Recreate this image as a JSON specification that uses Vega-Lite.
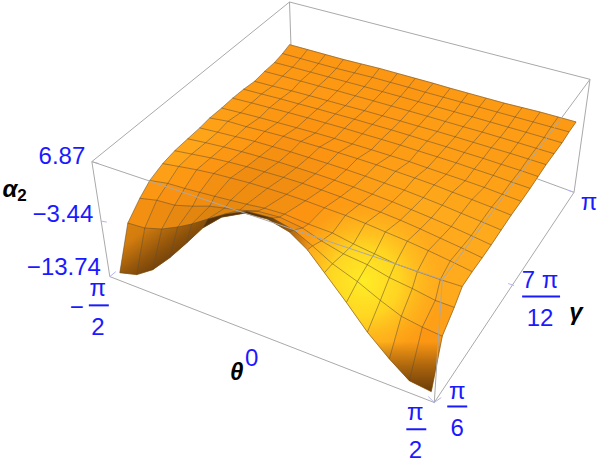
{"$schema":"https://vega.github.io/schema/vega-lite/v6.json","width":598,"height":463,"padding":0,"autosize":{"type":"fit","contains":"padding"},"background":"white","config":{"view":{"stroke":null}},
"datasets":{
"v":[
{"i":0,"j":16,"x":290,"y":43,"s":0.61},{"i":1,"j":16,"x":308,"y":48,"s":0.61},{"i":2,"j":16,"x":326,"y":53,"s":0.61},{"i":3,"j":16,"x":344,"y":58,"s":0.61},{"i":4,"j":16,"x":362,"y":62.5,"s":0.61},{"i":5,"j":16,"x":380,"y":67,"s":0.61},{"i":6,"j":16,"x":398,"y":72,"s":0.61},{"i":7,"j":16,"x":416,"y":77,"s":0.61},{"i":8,"j":16,"x":434,"y":82,"s":0.61},{"i":9,"j":16,"x":451,"y":87,"s":0.63},{"i":10,"j":16,"x":469,"y":92,"s":0.63},{"i":11,"j":16,"x":487,"y":97,"s":0.63},{"i":12,"j":16,"x":505,"y":102,"s":0.63},{"i":13,"j":16,"x":523,"y":106.5,"s":0.63},{"i":14,"j":16,"x":541,"y":111,"s":0.63},{"i":15,"j":16,"x":559,"y":116,"s":0.63},{"i":16,"j":16,"x":577,"y":121,"s":0.63},
{"i":0,"j":15,"x":283,"y":52,"s":0.62},{"i":1,"j":15,"x":301,"y":57,"s":0.62},{"i":2,"j":15,"x":319,"y":62,"s":0.62},{"i":3,"j":15,"x":337,"y":67,"s":0.62},{"i":4,"j":15,"x":355,"y":71.5,"s":0.62},{"i":5,"j":15,"x":373,"y":76,"s":0.62},{"i":6,"j":15,"x":391,"y":81,"s":0.62},{"i":7,"j":15,"x":409,"y":86,"s":0.62},{"i":8,"j":15,"x":426,"y":91,"s":0.62},{"i":9,"j":15,"x":444,"y":96,"s":0.64},{"i":10,"j":15,"x":462,"y":101,"s":0.64},{"i":11,"j":15,"x":480,"y":106,"s":0.64},{"i":12,"j":15,"x":498,"y":111,"s":0.64},{"i":13,"j":15,"x":516,"y":116,"s":0.64},{"i":14,"j":15,"x":534,"y":121,"s":0.64},{"i":15,"j":15,"x":552,"y":126,"s":0.64},{"i":16,"j":15,"x":570,"y":131,"s":0.64},
{"i":0,"j":14,"x":275,"y":61,"s":0.62},{"i":1,"j":14,"x":293,"y":65.8,"s":0.62},{"i":2,"j":14,"x":311,"y":70.7,"s":0.62},{"i":3,"j":14,"x":329,"y":75.6,"s":0.62},{"i":4,"j":14,"x":347,"y":80.5,"s":0.62},{"i":5,"j":14,"x":365,"y":85.4,"s":0.62},{"i":6,"j":14,"x":383,"y":90.4,"s":0.62},{"i":7,"j":14,"x":401,"y":95.4,"s":0.62},{"i":8,"j":14,"x":419,"y":100.5,"s":0.62},{"i":9,"j":14,"x":437,"y":105.6,"s":0.64},{"i":10,"j":14,"x":455,"y":110.7,"s":0.64},{"i":11,"j":14,"x":473,"y":115.8,"s":0.64},{"i":12,"j":14,"x":491,"y":121,"s":0.64},{"i":13,"j":14,"x":509,"y":126.2,"s":0.64},{"i":14,"j":14,"x":527,"y":131.4,"s":0.64},{"i":15,"j":14,"x":545,"y":136.7,"s":0.64},{"i":16,"j":14,"x":563,"y":142,"s":0.64},
{"i":0,"j":13,"x":265,"y":70,"s":0.63},{"i":1,"j":13,"x":283,"y":74.8,"s":0.63},{"i":2,"j":13,"x":301,"y":79.7,"s":0.63},{"i":3,"j":13,"x":319,"y":84.7,"s":0.63},{"i":4,"j":13,"x":338,"y":89.6,"s":0.63},{"i":5,"j":13,"x":356,"y":94.7,"s":0.63},{"i":6,"j":13,"x":374,"y":99.7,"s":0.63},{"i":7,"j":13,"x":392,"y":104.9,"s":0.63},{"i":8,"j":13,"x":410,"y":110,"s":0.63},{"i":9,"j":13,"x":428,"y":115.2,"s":0.65},{"i":10,"j":13,"x":446,"y":120.5,"s":0.65},{"i":11,"j":13,"x":464,"y":125.8,"s":0.65},{"i":12,"j":13,"x":483,"y":131.2,"s":0.65},{"i":13,"j":13,"x":501,"y":136.6,"s":0.65},{"i":14,"j":13,"x":519,"y":142,"s":0.65},{"i":15,"j":13,"x":537,"y":147.5,"s":0.65},{"i":16,"j":13,"x":555,"y":153,"s":0.65},
{"i":0,"j":12,"x":255,"y":80,"s":0.63},{"i":1,"j":12,"x":273,"y":84.8,"s":0.63},{"i":2,"j":12,"x":292,"y":89.6,"s":0.63},{"i":3,"j":12,"x":310,"y":94.5,"s":0.63},{"i":4,"j":12,"x":328,"y":99.5,"s":0.63},{"i":5,"j":12,"x":346,"y":104.5,"s":0.63},{"i":6,"j":12,"x":365,"y":109.6,"s":0.63},{"i":7,"j":12,"x":383,"y":114.8,"s":0.63},{"i":8,"j":12,"x":401,"y":120,"s":0.63},{"i":9,"j":12,"x":419,"y":125.3,"s":0.65},{"i":10,"j":12,"x":438,"y":130.6,"s":0.65},{"i":11,"j":12,"x":456,"y":136,"s":0.65},{"i":12,"j":12,"x":474,"y":141.5,"s":0.65},{"i":13,"j":12,"x":492,"y":147,"s":0.65},{"i":14,"j":12,"x":511,"y":152.6,"s":0.65},{"i":15,"j":12,"x":529,"y":158.3,"s":0.65},{"i":16,"j":12,"x":547,"y":164,"s":0.65},
{"i":0,"j":11,"x":244,"y":88,"s":0.64},{"i":1,"j":11,"x":262,"y":92.8,"s":0.64},{"i":2,"j":11,"x":281,"y":97.7,"s":0.63},{"i":3,"j":11,"x":299,"y":102.7,"s":0.62},{"i":4,"j":11,"x":318,"y":107.8,"s":0.62},{"i":5,"j":11,"x":336,"y":112.9,"s":0.62},{"i":6,"j":11,"x":355,"y":118.2,"s":0.62},{"i":7,"j":11,"x":373,"y":123.5,"s":0.62},{"i":8,"j":11,"x":392,"y":129,"s":0.63},{"i":9,"j":11,"x":410,"y":134.5,"s":0.64},{"i":10,"j":11,"x":428,"y":140.2,"s":0.65},{"i":11,"j":11,"x":447,"y":146,"s":0.66},{"i":12,"j":11,"x":465,"y":151.8,"s":0.66},{"i":13,"j":11,"x":484,"y":157.7,"s":0.66},{"i":14,"j":11,"x":502,"y":163.7,"s":0.66},{"i":15,"j":11,"x":521,"y":169.8,"s":0.66},{"i":16,"j":11,"x":539,"y":176,"s":0.66},
{"i":0,"j":10,"x":233,"y":97,"s":0.65},{"i":1,"j":10,"x":252,"y":101.8,"s":0.63},{"i":2,"j":10,"x":270,"y":106.6,"s":0.62},{"i":3,"j":10,"x":289,"y":111.6,"s":0.61},{"i":4,"j":10,"x":308,"y":116.8,"s":0.6},{"i":5,"j":10,"x":326,"y":122,"s":0.6},{"i":6,"j":10,"x":345,"y":127.4,"s":0.61},{"i":7,"j":10,"x":363,"y":132.9,"s":0.62},{"i":8,"j":10,"x":382,"y":138.5,"s":0.63},{"i":9,"j":10,"x":401,"y":144.3,"s":0.64},{"i":10,"j":10,"x":419,"y":150.2,"s":0.65},{"i":11,"j":10,"x":438,"y":156.2,"s":0.66},{"i":12,"j":10,"x":457,"y":162.3,"s":0.66},{"i":13,"j":10,"x":475,"y":168.5,"s":0.67},{"i":14,"j":10,"x":494,"y":174.9,"s":0.67},{"i":15,"j":10,"x":512,"y":181.4,"s":0.67},{"i":16,"j":10,"x":531,"y":188,"s":0.67},
{"i":0,"j":9,"x":222,"y":107,"s":0.66},{"i":1,"j":9,"x":241,"y":111.7,"s":0.65},{"i":2,"j":9,"x":260,"y":116.6,"s":0.63},{"i":3,"j":9,"x":278,"y":121.6,"s":0.61},{"i":4,"j":9,"x":297,"y":126.8,"s":0.6},{"i":5,"j":9,"x":316,"y":132.1,"s":0.6},{"i":6,"j":9,"x":335,"y":137.6,"s":0.61},{"i":7,"j":9,"x":353,"y":143.2,"s":0.62},{"i":8,"j":9,"x":372,"y":149,"s":0.63},{"i":9,"j":9,"x":391,"y":155,"s":0.65},{"i":10,"j":9,"x":410,"y":161,"s":0.66},{"i":11,"j":9,"x":428,"y":167.3,"s":0.67},{"i":12,"j":9,"x":447,"y":173.8,"s":0.68},{"i":13,"j":9,"x":466,"y":180.3,"s":0.68},{"i":14,"j":9,"x":485,"y":187,"s":0.68},{"i":15,"j":9,"x":503,"y":193.9,"s":0.68},{"i":16,"j":9,"x":522,"y":201,"s":0.68},
{"i":0,"j":8,"x":210,"y":117,"s":0.68},{"i":1,"j":8,"x":228.3,"y":120.3,"s":0.66},{"i":2,"j":8,"x":246.7,"y":125.8,"s":0.63},{"i":3,"j":8,"x":265.2,"y":130.5,"s":0.61},{"i":4,"j":8,"x":283.8,"y":135.5,"s":0.6},{"i":5,"j":8,"x":301.4,"y":140.7,"s":0.59},{"i":6,"j":8,"x":320.2,"y":146.3,"s":0.6},{"i":7,"j":8,"x":339,"y":152,"s":0.62},{"i":8,"j":8,"x":358,"y":158,"s":0.63},{"i":9,"j":8,"x":377,"y":164.2,"s":0.65},{"i":10,"j":8,"x":396.2,"y":170.8,"s":0.67},{"i":11,"j":8,"x":415.4,"y":177.5,"s":0.68},{"i":12,"j":8,"x":434.8,"y":184.5,"s":0.69},{"i":13,"j":8,"x":453.2,"y":191.8,"s":0.7},{"i":14,"j":8,"x":472.7,"y":199.3,"s":0.7},{"i":15,"j":8,"x":492.3,"y":207,"s":0.7},{"i":16,"j":8,"x":512,"y":215,"s":0.7},
{"i":0,"j":7,"x":200,"y":127,"s":0.7},{"i":1,"j":7,"x":218,"y":131.3,"s":0.67},{"i":2,"j":7,"x":236,"y":135.8,"s":0.64},{"i":3,"j":7,"x":255,"y":140.5,"s":0.61},{"i":4,"j":7,"x":273,"y":145.8,"s":0.58},{"i":5,"j":7,"x":291,"y":151.1,"s":0.58},{"i":6,"j":7,"x":309,"y":156.8,"s":0.59},{"i":7,"j":7,"x":328,"y":162.8,"s":0.6},{"i":8,"j":7,"x":347,"y":169.1,"s":0.63},{"i":9,"j":7,"x":366,"y":175.7,"s":0.65},{"i":10,"j":7,"x":385,"y":182.6,"s":0.68},{"i":11,"j":7,"x":405,"y":189.8,"s":0.7},{"i":12,"j":7,"x":424,"y":197.3,"s":0.71},{"i":13,"j":7,"x":443,"y":205,"s":0.72},{"i":14,"j":7,"x":462,"y":213.1,"s":0.72},{"i":15,"j":7,"x":482,"y":221.4,"s":0.72},{"i":16,"j":7,"x":502,"y":230,"s":0.72},
{"i":0,"j":6,"x":188,"y":138,"s":0.72},{"i":1,"j":6,"x":206,"y":141.9,"s":0.68},{"i":2,"j":6,"x":224,"y":146.2,"s":0.64},{"i":3,"j":6,"x":242,"y":150.9,"s":0.6},{"i":4,"j":6,"x":260,"y":156,"s":0.57},{"i":5,"j":6,"x":279,"y":161.4,"s":0.56},{"i":6,"j":6,"x":297,"y":167.1,"s":0.57},{"i":7,"j":6,"x":316,"y":173.2,"s":0.58},{"i":8,"j":6,"x":335,"y":179.7,"s":0.62},{"i":9,"j":6,"x":354,"y":186.6,"s":0.65},{"i":10,"j":6,"x":373,"y":193.8,"s":0.67},{"i":11,"j":6,"x":393,"y":201.5,"s":0.7},{"i":12,"j":6,"x":412,"y":209.4,"s":0.72},{"i":13,"j":6,"x":432,"y":217.8,"s":0.73},{"i":14,"j":6,"x":452,"y":226.5,"s":0.73},{"i":15,"j":6,"x":472,"y":235.6,"s":0.73},{"i":16,"j":6,"x":492,"y":245,"s":0.73},
{"i":0,"j":5,"x":175,"y":150,"s":0.73},{"i":1,"j":5,"x":192,"y":153.4,"s":0.68},{"i":2,"j":5,"x":211,"y":157.2,"s":0.63},{"i":3,"j":5,"x":229,"y":161.4,"s":0.6},{"i":4,"j":5,"x":247,"y":166.1,"s":0.56},{"i":5,"j":5,"x":265,"y":171.3,"s":0.55},{"i":6,"j":5,"x":284,"y":176.9,"s":0.56},{"i":7,"j":5,"x":303,"y":182.9,"s":0.57},{"i":8,"j":5,"x":322,"y":189.5,"s":0.6},{"i":9,"j":5,"x":341,"y":196.5,"s":0.63},{"i":10,"j":5,"x":360,"y":204,"s":0.66},{"i":11,"j":5,"x":381,"y":211.9,"s":0.69},{"i":12,"j":5,"x":401,"y":220.1,"s":0.71},{"i":13,"j":5,"x":421,"y":228.9,"s":0.72},{"i":14,"j":5,"x":441,"y":238.2,"s":0.72},{"i":15,"j":5,"x":462,"y":247.9,"s":0.72},{"i":16,"j":5,"x":483,"y":258,"s":0.72},
{"i":0,"j":4,"x":163,"y":163,"s":0.72},{"i":1,"j":4,"x":179,"y":165.9,"s":0.66},{"i":2,"j":4,"x":197,"y":169.2,"s":0.62},{"i":3,"j":4,"x":214,"y":173,"s":0.58},{"i":4,"j":4,"x":231,"y":177.5,"s":0.55},{"i":5,"j":4,"x":250,"y":182.5,"s":0.55},{"i":6,"j":4,"x":268,"y":188,"s":0.55},{"i":7,"j":4,"x":287,"y":194,"s":0.56},{"i":8,"j":4,"x":306,"y":200.5,"s":0.58},{"i":9,"j":4,"x":325,"y":207.6,"s":0.62},{"i":10,"j":4,"x":346,"y":215.2,"s":0.66},{"i":11,"j":4,"x":366,"y":223.3,"s":0.7},{"i":12,"j":4,"x":386,"y":231.9,"s":0.73},{"i":13,"j":4,"x":408,"y":241.2,"s":0.74},{"i":14,"j":4,"x":429,"y":250.8,"s":0.74},{"i":15,"j":4,"x":451,"y":261.2,"s":0.73},{"i":16,"j":4,"x":473,"y":272,"s":0.73},
{"i":0,"j":3,"x":150,"y":180,"s":0.68},{"i":1,"j":3,"x":168,"y":183,"s":0.62},{"i":2,"j":3,"x":185,"y":188,"s":0.6},{"i":3,"j":3,"x":200,"y":192,"s":0.58},{"i":4,"j":3,"x":215,"y":196,"s":0.56},{"i":5,"j":3,"x":231,"y":200,"s":0.55},{"i":6,"j":3,"x":247,"y":204,"s":0.55},{"i":7,"j":3,"x":265,"y":208,"s":0.55},{"i":8,"j":3,"x":285,"y":214,"s":0.58},{"i":9,"j":3,"x":309,"y":224,"s":0.62},{"i":10,"j":3,"x":333,"y":233,"s":0.68},{"i":11,"j":3,"x":354,"y":244,"s":0.72},{"i":12,"j":3,"x":375,"y":254,"s":0.76},{"i":13,"j":3,"x":396,"y":264,"s":0.76},{"i":14,"j":3,"x":418,"y":272,"s":0.74},{"i":15,"j":3,"x":441,"y":280,"s":0.74},{"i":16,"j":3,"x":463,"y":287,"s":0.74},
{"i":0,"j":2,"x":140,"y":198,"s":0.6},{"i":1,"j":2,"x":157,"y":200,"s":0.58},{"i":2,"j":2,"x":175,"y":205,"s":0.55},{"i":3,"j":2,"x":193,"y":206,"s":0.55},{"i":4,"j":2,"x":210,"y":206,"s":0.52},{"i":5,"j":2,"x":225,"y":208,"s":0.5},{"i":6,"j":2,"x":240,"y":210,"s":0.5},{"i":7,"j":2,"x":258,"y":211,"s":0.5},{"i":8,"j":2,"x":280,"y":217,"s":0.55},{"i":9,"j":2,"x":303,"y":228,"s":0.6},{"i":10,"j":2,"x":322,"y":241,"s":0.68},{"i":11,"j":2,"x":344,"y":254,"s":0.72},{"i":12,"j":2,"x":368,"y":265,"s":0.76},{"i":13,"j":2,"x":390,"y":278,"s":0.78},{"i":14,"j":2,"x":413,"y":289,"s":0.74},{"i":15,"j":2,"x":436,"y":301,"s":0.72},{"i":16,"j":2,"x":455,"y":308,"s":0.7},
{"i":0,"j":1,"x":128,"y":223,"s":0.58},{"i":1,"j":1,"x":145,"y":228,"s":0.52},{"i":2,"j":1,"x":162,"y":229,"s":0.5},{"i":3,"j":1,"x":178,"y":227,"s":0.48},{"i":4,"j":1,"x":192,"y":224,"s":0.46},{"i":5,"j":1,"x":208,"y":219,"s":0.45},{"i":6,"j":1,"x":225,"y":214,"s":0.45},{"i":7,"j":1,"x":247,"y":211,"s":0.45},{"i":8,"j":1,"x":273,"y":218,"s":0.5},{"i":9,"j":1,"x":294,"y":230,"s":0.56},{"i":10,"j":1,"x":313,"y":246,"s":0.65},{"i":11,"j":1,"x":333,"y":264,"s":0.75},{"i":12,"j":1,"x":358,"y":282,"s":0.82},{"i":13,"j":1,"x":381,"y":301,"s":0.78},{"i":14,"j":1,"x":402,"y":317,"s":0.68},{"i":15,"j":1,"x":423,"y":328,"s":0.64},{"i":16,"j":1,"x":443,"y":337,"s":0.62},
{"i":0,"j":0,"x":120,"y":273,"s":0.45},{"i":1,"j":0,"x":137,"y":275,"s":0.42},{"i":2,"j":0,"x":153,"y":270,"s":0.4},{"i":3,"j":0,"x":170,"y":258,"s":0.38},{"i":4,"j":0,"x":187,"y":243,"s":0.36},{"i":5,"j":0,"x":203,"y":228,"s":0.35},{"i":6,"j":0,"x":222,"y":217,"s":0.35},{"i":7,"j":0,"x":245,"y":213,"s":0.4},{"i":8,"j":0,"x":268,"y":219,"s":0.45},{"i":9,"j":0,"x":290,"y":232,"s":0.5},{"i":10,"j":0,"x":308,"y":250,"s":0.62},{"i":11,"j":0,"x":325,"y":273,"s":0.75},{"i":12,"j":0,"x":347,"y":303,"s":0.82},{"i":13,"j":0,"x":368,"y":333,"s":0.72},{"i":14,"j":0,"x":390,"y":360,"s":0.66},{"i":15,"j":0,"x":410,"y":382,"s":0.62},{"i":16,"j":0,"x":432,"y":393,"s":0.6}
],
"yellow":[{"k":0,"x":268,"y":219},{"k":1,"x":290,"y":232},{"k":2,"x":308,"y":250},{"k":3,"x":325,"y":273},{"k":4,"x":347,"y":303},{"k":5,"x":368,"y":333},{"k":6,"x":390,"y":360},{"k":7,"x":410,"y":382},{"k":8,"x":432,"y":393},{"k":9,"x":443,"y":337},{"k":10,"x":455,"y":308},{"k":11,"x":463,"y":287},{"k":12,"x":473,"y":272},{"k":13,"x":483,"y":258},{"k":14,"x":462,"y":247.9},{"k":15,"x":441,"y":238.2},{"k":16,"x":421,"y":228.9},{"k":17,"x":401,"y":220.1},{"k":18,"x":381,"y":211.9},{"k":19,"x":360,"y":204},{"k":20,"x":341,"y":196.5},{"k":21,"x":322,"y":189.5},{"k":22,"x":306,"y":200.5},{"k":23,"x":285,"y":214}],
"corner":[{"k":0,"x":368,"y":333},{"k":1,"x":390,"y":360},{"k":2,"x":410,"y":382},{"k":3,"x":432,"y":393},{"k":4,"x":443,"y":337},{"k":5,"x":423,"y":328},{"k":6,"x":402,"y":317},{"k":7,"x":381,"y":301}],
"foot":[{"k":0,"x":120,"y":273},{"k":1,"x":137,"y":275},{"k":2,"x":153,"y":270},{"k":3,"x":170,"y":258},{"k":4,"x":187,"y":243},{"k":5,"x":203,"y":228},{"k":6,"x":208,"y":219},{"k":7,"x":192,"y":224},{"k":8,"x":178,"y":227},{"k":9,"x":162,"y":229},{"k":10,"x":145,"y":228},{"k":11,"x":128,"y":223}],
"hump":[{"k":0,"x":203,"y":228},{"k":1,"x":222,"y":217},{"k":2,"x":245,"y":213},{"k":3,"x":268,"y":219},{"k":4,"x":290,"y":232},{"k":5,"x":308,"y":250},{"k":6,"x":313,"y":246},{"k":7,"x":294,"y":230},{"k":8,"x":273,"y":218},{"k":9,"x":247,"y":211},{"k":10,"x":225,"y":214},{"k":11,"x":208,"y":219}],
"box":[
{"seg":"a","k":0,"x":92,"y":161},{"seg":"a","k":1,"x":290,"y":0},{"seg":"a","k":2,"x":591,"y":78},{"seg":"a","k":3,"x":575,"y":192},{"seg":"a","k":4,"x":294,"y":88},
{"seg":"b","k":0,"x":290,"y":0},{"seg":"b","k":1,"x":292,"y":60},
{"seg":"c","k":0,"x":92,"y":161},{"seg":"c","k":1,"x":110,"y":277},{"seg":"c","k":2,"x":435,"y":404},{"seg":"c","k":3,"x":575,"y":192}
],
"front":[
{"seg":"a","k":0,"x":92,"y":161},{"seg":"a","k":1,"x":443,"y":280},{"seg":"a","k":2,"x":591,"y":78},
{"seg":"b","k":0,"x":443,"y":280},{"seg":"b","k":1,"x":435,"y":404}
],
"ticks":[
{"seg":"a","k":0,"x":92,"y":161},{"seg":"a","k":1,"x":99,"y":163},
{"seg":"b","k":0,"x":101,"y":221},{"seg":"b","k":1,"x":107,"y":222},
{"seg":"c","k":0,"x":110,"y":277},{"seg":"c","k":1,"x":116,"y":272},
{"seg":"d","k":0,"x":435,"y":404},{"seg":"d","k":1,"x":429,"y":398},
{"seg":"e","k":0,"x":435,"y":404},{"seg":"e","k":1,"x":442,"y":399},
{"seg":"f","k":0,"x":569,"y":190},{"seg":"f","k":1,"x":575,"y":192},
{"seg":"g","k":0,"x":509,"y":284},{"seg":"g","k":1,"x":515,"y":286}
],
"bars":[
{"seg":"a","k":0,"x":89,"y":306},{"seg":"a","k":1,"x":109,"y":306},
{"seg":"b","k":0,"x":407,"y":431},{"seg":"b","k":1,"x":427,"y":431},
{"seg":"c","k":0,"x":448,"y":408},{"seg":"c","k":1,"x":468,"y":408},
{"seg":"d","k":0,"x":523,"y":297},{"seg":"d","k":1,"x":561,"y":297}
],
"blue":[
{"t":"6.87","x":62,"y":163},{"t":"−3.44","x":63,"y":222},{"t":"−13.74","x":64,"y":275},
{"t":"π","x":98,"y":297},{"t":"2","x":98,"y":336},{"t":"−","x":77,"y":316},
{"t":"0","x":252,"y":367},
{"t":"π","x":416,"y":422},{"t":"2","x":416,"y":460},
{"t":"π","x":458,"y":400},{"t":"6","x":458,"y":438},
{"t":"7 π","x":541,"y":288},{"t":"12","x":541,"y":327},
{"t":"π","x":590,"y":210}
],
"black":[{"t":"α","x":10,"y":197},{"t":"θ","x":237,"y":381},{"t":"γ","x":577,"y":321}],
"sub":[{"t":"2","x":22,"y":201}]
},
"layer":[
{"data":{"name":"box"},"mark":{"type":"line","stroke":"#a9a9a9","strokeWidth":1},"encoding":{"x":{"field":"x","type":"quantitative","scale":{"domain":[0,598],"nice":false,"zero":false},"axis":null},"y":{"field":"y","type":"quantitative","scale":{"domain":[463,0],"nice":false,"zero":false},"axis":null},"detail":{"field":"seg"},"order":{"field":"k"}}},
{"data":{"name":"ticks"},"mark":{"type":"line","stroke":"#b4b4f4","strokeWidth":1},"encoding":{"x":{"field":"x","type":"quantitative","axis":null},"y":{"field":"y","type":"quantitative","axis":null},"detail":{"field":"seg"},"order":{"field":"k"}}},
{"data":{"name":"v"},
"transform":[
{"calculate":"[0,1,2,3]","as":"k"},{"flatten":["k"]},
{"calculate":"datum.i-((datum.k==1||datum.k==2)?1:0)","as":"ci"},
{"calculate":"datum.j-((datum.k==2||datum.k==3)?1:0)","as":"cj"},
{"filter":"datum.ci>=0&&datum.ci<16&&datum.cj>=0&&datum.cj<16"},
{"calculate":"datum.cj*100+datum.ci","as":"cell"},
{"joinaggregate":[{"op":"mean","field":"s","as":"cs"}],"groupby":["cell"]}
],
"mark":{"type":"line","strokeWidth":0.7},
"encoding":{"x":{"field":"x","type":"quantitative","axis":null},"y":{"field":"y","type":"quantitative","axis":null},"detail":{"field":"cell"},"order":{"field":"k"},
"fill":{"field":"cs","type":"quantitative","legend":null,"scale":{"domain":[0,0.3,0.6,0.75,1],"range":["#5a3208","#b06a0c","#fc9412","#ffad1e","#ffe82a"]}},
"stroke":{"field":"cs","type":"quantitative","legend":null,"scale":{"domain":[0,0.3,0.6,0.75,1],"range":["#5a3208","#b06a0c","#fc9412","#ffad1e","#ffe82a"]}}}},
{"data":{"name":"yellow"},"mark":{"type":"line","strokeWidth":0,"fill":{"gradient":"radial","x1":0.451,"y1":0.457,"r1":0,"x2":0.451,"y2":0.457,"r2":0.36,"stops":[{"offset":0,"color":"rgba(255,236,38,1)"},{"offset":0.45,"color":"rgba(255,226,36,0.75)"},{"offset":1,"color":"rgba(255,190,30,0)"}]}},"encoding":{"x":{"field":"x","type":"quantitative","axis":null},"y":{"field":"y","type":"quantitative","axis":null},"order":{"field":"k"}}},
{"data":{"name":"corner"},"mark":{"type":"line","strokeWidth":0,"fill":{"gradient":"linear","x1":0.5,"y1":0,"x2":0.5,"y2":1,"stops":[{"offset":0,"color":"rgba(106,60,8,0)"},{"offset":0.45,"color":"rgba(106,60,8,0)"},{"offset":0.72,"color":"rgba(106,60,8,0.55)"},{"offset":1,"color":"rgba(106,60,8,1)"}]}},"encoding":{"x":{"field":"x","type":"quantitative","axis":null},"y":{"field":"y","type":"quantitative","axis":null},"order":{"field":"k"}}},
{"data":{"name":"foot"},"mark":{"type":"line","strokeWidth":0,"fill":{"gradient":"linear","x1":0,"y1":0,"x2":1,"y2":1,"stops":[{"offset":0,"color":"rgba(90,50,8,0)"},{"offset":0.25,"color":"rgba(90,50,8,0.1)"},{"offset":0.5,"color":"rgba(90,50,8,0.55)"},{"offset":0.7,"color":"rgba(90,50,8,0.85)"},{"offset":1,"color":"rgba(90,50,8,0.9)"}]}},"encoding":{"x":{"field":"x","type":"quantitative","axis":null},"y":{"field":"y","type":"quantitative","axis":null},"order":{"field":"k"}}},
{"data":{"name":"hump"},"mark":{"type":"line","strokeWidth":0,"fill":{"gradient":"linear","x1":0,"y1":0.5,"x2":1,"y2":0.5,"stops":[{"offset":0,"color":"rgba(74,42,8,0.9)"},{"offset":0.55,"color":"rgba(74,42,8,0.9)"},{"offset":1,"color":"rgba(74,42,8,0)"}]}},"encoding":{"x":{"field":"x","type":"quantitative","axis":null},"y":{"field":"y","type":"quantitative","axis":null},"order":{"field":"k"}}},
{"data":{"name":"v"},"mark":{"type":"line","stroke":"#5c4a2c","strokeWidth":0.8,"opacity":0.65},"encoding":{"x":{"field":"x","type":"quantitative","axis":null},"y":{"field":"y","type":"quantitative","axis":null},"detail":{"field":"i"},"order":{"field":"j"}}},
{"data":{"name":"v"},"mark":{"type":"line","stroke":"#5c4a2c","strokeWidth":0.8,"opacity":0.65},"encoding":{"x":{"field":"x","type":"quantitative","axis":null},"y":{"field":"y","type":"quantitative","axis":null},"detail":{"field":"j"},"order":{"field":"i"}}},
{"data":{"name":"front"},"mark":{"type":"line","stroke":"#a9a9a9","strokeWidth":1},"encoding":{"x":{"field":"x","type":"quantitative","axis":null},"y":{"field":"y","type":"quantitative","axis":null},"detail":{"field":"seg"},"order":{"field":"k"}}},
{"data":{"name":"bars"},"mark":{"type":"line","stroke":"#1a1aff","strokeWidth":2},"encoding":{"x":{"field":"x","type":"quantitative","axis":null},"y":{"field":"y","type":"quantitative","axis":null},"detail":{"field":"seg"},"order":{"field":"k"}}},
{"data":{"name":"blue"},"mark":{"type":"text","font":"Liberation Sans","fontSize":24,"fill":"#1a1aff","align":"center","baseline":"alphabetic"},"encoding":{"x":{"field":"x","type":"quantitative","axis":null},"y":{"field":"y","type":"quantitative","axis":null},"text":{"field":"t"}}},
{"data":{"name":"black"},"mark":{"type":"text","font":"Liberation Sans","fontSize":24,"fontWeight":"bold","fontStyle":"italic","fill":"black","align":"center","baseline":"alphabetic"},"encoding":{"x":{"field":"x","type":"quantitative","axis":null},"y":{"field":"y","type":"quantitative","axis":null},"text":{"field":"t"}}},
{"data":{"name":"sub"},"mark":{"type":"text","font":"Liberation Sans","fontSize":17,"fontWeight":"bold","fill":"black","align":"center","baseline":"alphabetic"},"encoding":{"x":{"field":"x","type":"quantitative","axis":null},"y":{"field":"y","type":"quantitative","axis":null},"text":{"field":"t"}}}
]}
